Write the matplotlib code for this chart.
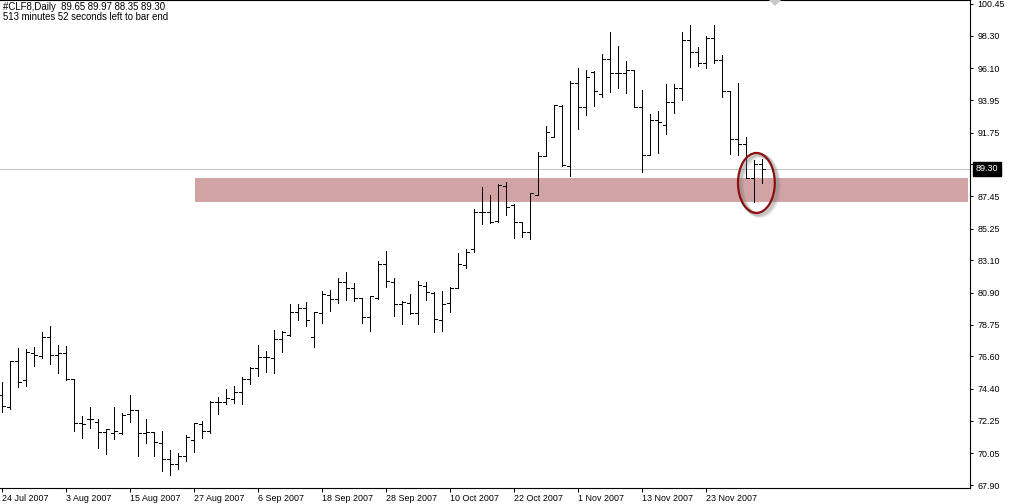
import numpy as np
import matplotlib
matplotlib.use("Agg")
import matplotlib.pyplot as plt
from matplotlib.patches import Rectangle, Ellipse, Polygon

plt.rcParams['font.family'] = ['Liberation Sans', 'DejaVu Sans']

header = "#CLF8,Daily  89.65 89.97 88.35 89.30"
timer_text = "513 minutes 52 seconds left to bar end"

# daily OHLC (one bar per trading day, 24 Jul 2007 onwards)
opens = [74.00, 73.20, 76.29, 74.98, 76.86, 76.61, 77.89, 76.70, 76.83, 75.05,
         72.07, 72.37, 72.14, 71.46, 71.40, 71.44, 72.68, 72.95, 71.40, 71.46,
         70.72, 69.66, 69.32, 69.84, 70.95, 72.01, 71.56, 73.52, 73.52, 73.74,
         74.17, 75.07, 75.80, 76.54, 76.47, 77.76, 78.05, 79.61, 79.85, 77.89,
         79.54, 80.76, 80.49, 81.62, 81.21, 80.53, 79.27, 80.53, 82.83, 81.61,
         80.13, 80.22, 79.56, 81.39, 80.89, 79.04, 80.22, 81.23, 82.77, 83.87,
         86.35, 86.35, 85.79, 88.11, 86.85, 85.68, 85.00, 87.55, 90.16, 91.47,
         93.57, 89.51, 95.08, 93.46, 95.83, 94.36, 96.73, 95.80, 95.80, 95.98,
         93.50, 90.23, 92.60, 92.26, 93.84, 94.74, 98.01, 97.22, 96.43, 98.13,
         96.66, 94.59, 91.31, 90.98, 88.65, 89.65]
highs = [74.89, 76.31, 77.15, 77.08, 77.22, 78.23, 78.66, 77.37, 77.31, 75.05,
         72.57, 73.16, 72.39, 71.71, 73.16, 72.75, 73.99, 72.95, 72.37, 71.46,
         71.58, 70.27, 70.04, 71.28, 72.12, 72.25, 73.59, 73.88, 74.40, 74.60,
         75.19, 75.86, 77.37, 76.99, 78.39, 78.32, 80.15, 80.15, 80.31, 79.61,
         81.03, 81.10, 81.89, 82.31, 81.55, 80.53, 80.69, 83.06, 83.74, 81.89,
         80.33, 80.83, 81.71, 81.62, 80.98, 81.05, 81.28, 83.58, 83.89, 86.55,
         88.09, 87.53, 88.25, 88.41, 86.89, 85.72, 87.68, 90.41, 92.19, 93.64,
         93.64, 95.24, 96.10, 95.98, 95.94, 97.04, 98.53, 97.61, 96.59, 95.98,
         94.63, 92.98, 93.23, 95.01, 95.04, 98.53, 99.03, 97.52, 98.29, 99.03,
         97.00, 94.59, 95.08, 91.43, 89.89, 89.97]
lows = [72.86, 73.04, 74.56, 74.62, 75.98, 76.52, 76.07, 75.46, 75.01, 71.58,
        71.06, 71.78, 70.43, 70.02, 71.04, 71.35, 72.19, 69.89, 70.77, 69.89,
        68.87, 68.60, 69.01, 69.50, 70.16, 71.10, 71.40, 72.73, 73.36, 73.43,
        73.38, 74.71, 75.28, 75.57, 75.46, 76.88, 77.98, 79.07, 78.68, 77.26,
        78.84, 79.70, 80.19, 80.42, 80.35, 78.89, 78.34, 80.49, 81.32, 79.36,
        78.80, 79.47, 78.80, 80.42, 78.28, 78.34, 79.63, 81.21, 82.61, 83.65,
        85.56, 85.65, 85.72, 86.17, 84.64, 84.71, 84.57, 87.50, 90.16, 91.47,
        89.51, 88.81, 91.97, 92.94, 93.57, 94.13, 94.52, 94.79, 94.45, 93.46,
        89.06, 90.20, 90.39, 91.65, 93.05, 93.95, 96.21, 96.28, 96.10, 96.43,
        94.13, 90.28, 90.23, 88.70, 87.03, 88.35]
closes = [73.27, 76.31, 74.85, 76.88, 76.70, 77.89, 76.70, 76.83, 75.05, 72.07,
          72.01, 72.37, 71.51, 71.67, 71.55, 72.66, 72.95, 71.40, 71.46, 70.81,
          69.66, 69.32, 69.89, 71.13, 72.07, 71.56, 73.52, 73.52, 73.77, 74.17,
          75.10, 75.84, 76.54, 76.59, 77.76, 78.28, 79.61, 79.85, 79.04, 79.61,
          80.83, 80.49, 81.62, 81.21, 80.58, 79.25, 80.69, 82.83, 81.70, 80.13,
          80.28, 79.56, 81.41, 80.94, 79.11, 80.13, 81.23, 82.83, 83.67, 86.40,
          86.35, 85.72, 88.20, 86.69, 85.68, 85.00, 87.64, 90.19, 91.77, 93.59,
          89.53, 95.08, 93.46, 95.49, 94.56, 96.71, 95.80, 95.80, 95.98, 93.50,
          90.23, 92.60, 92.49, 93.84, 94.74, 98.01, 97.22, 96.43, 98.13, 96.66,
          94.59, 91.31, 90.98, 88.70, 89.60, 89.30]

date_labels = ["24 Jul 2007", "3 Aug 2007", "15 Aug 2007", "27 Aug 2007",
               "6 Sep 2007", "18 Sep 2007", "28 Sep 2007", "10 Oct 2007",
               "22 Oct 2007", "1 Nov 2007", "13 Nov 2007", "23 Nov 2007"]
price_ticks = [100.45, 98.30, 96.10, 93.95, 91.75, 89.60, 87.45, 85.25,
               83.10, 80.90, 78.75, 76.60, 74.40, 72.25, 70.05, 67.90]
last_price = 89.30
zone_low = 87.05
zone_high = 88.68

W, H = 1009, 504
fig = plt.figure(figsize=(W / 100, H / 100), dpi=100)
ax = fig.add_axes([0, 16 / H, 970 / W, 488 / H])

x = np.arange(len(opens))
tick_w = 0.4
lw = 0.72

# support zone rectangle
ax.add_patch(Rectangle((24.1, zone_low), 120.75 - 24.1, zone_high - zone_low,
                       facecolor='#d1a3a4', edgecolor='none', zorder=1))

# current price line
ax.axhline(last_price, color='#c0c0c0', lw=lw, zorder=2)

ax.vlines(x, lows, highs, color='black', lw=lw, antialiased=False, zorder=3)
ax.hlines(opens, x - tick_w, x, color='black', lw=lw, antialiased=False, zorder=3)
ax.hlines(closes, x, x + tick_w, color='black', lw=lw, antialiased=False, zorder=3)

# circled bars with soft shadow
for off, a in [(0.5, 0.15), (0.35, 0.2), (0.2, 0.25)]:
    ax.add_patch(Ellipse((94.3 + off, 88.34 - off * 0.4), 4.6, 4.06, fill=False,
                         edgecolor='gray', lw=3, alpha=a, zorder=4))
ax.add_patch(Ellipse((94.3, 88.34), 4.6, 4.06, fill=False,
                     edgecolor='#8b1010', lw=1.6, zorder=5))

ax.set_xlim(-0.25, 121.0)
ax.set_ylim(67.70, 100.72)

ax.set_xticks(np.arange(len(date_labels)) * 8)
ax.set_xticklabels(date_labels, ha='left', fontsize=6.4)
ax.yaxis.tick_right()
ax.set_yticks(price_ticks)
ax.set_yticklabels(["%.2f" % v for v in price_ticks], fontsize=6.4)
ax.tick_params(axis='y', direction='out', length=2.5, width=0.7, pad=3)
ax.tick_params(axis='x', direction='out', length=3, width=0.7, pad=1)

for s in ['right', 'bottom', 'top']:
    ax.spines[s].set_linewidth(0.8)
ax.spines['left'].set_visible(False)

# last price marker on the axis
ax.text(1.006, last_price, "%.2f" % last_price, transform=ax.get_yaxis_transform(),
        color='white', fontsize=6.6, va='center', ha='left', zorder=10,
        bbox=dict(boxstyle='square,pad=0.3', facecolor='black', edgecolor='black'),
        clip_on=False)

ax.text(0.003, 0.996, header, transform=ax.transAxes, fontsize=6.9, va='top', ha='left')
ax.text(0.003, 0.975, timer_text, transform=ax.transAxes, fontsize=6.9, va='top', ha='left')

# chart shift marker
fig.patches.append(Polygon([(769 / W, 1), (781 / W, 1), (775 / W, 1 - 6 / H)],
                           closed=True, facecolor='#c8c8c8', edgecolor='none',
                           transform=fig.transFigure))

fig.savefig("out.png", dpi=100)
